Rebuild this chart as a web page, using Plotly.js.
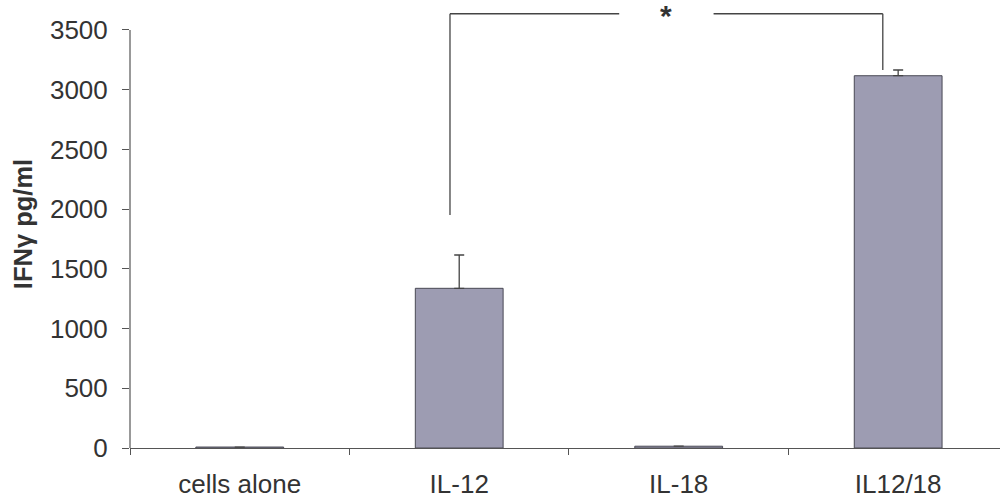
<!DOCTYPE html>
<html>
<head>
<meta charset="utf-8">
<script src="https://cdn.plot.ly/plotly-3.0.1.min.js"></script>
<style>html,body{margin:0;padding:0;background:#fff;}#chart{width:1001px;height:500px;}</style>
</head>
<body>
<div id="chart"></div>
<script>
const categories = ["cells alone", "IL-12", "IL-18", "IL12/18"];
const values = [8, 1337, 15, 3117];
const errorsUp = [0, 279, 0, 48];
const yTickVals = [0, 500, 1000, 1500, 2000, 2500, 3000, 3500];
const yTickText = ["0", "500", "1000", "1500", "2000", "2500", "3000", "3500"];
// significance bracket (IL-12 vs IL12/18)
const bracketX = [0.958, 2.93];
const bracketYBottom = [1951, 3165];
const bracketYTop = 3636;
const sigLabel = "*";

const yMax = 3751;
const axisColor = "#555555";
const textColor = "#333333";

const trace = {
  type: "bar",
  x: categories,
  y: values,
  width: 0.4,
  marker: { color: "#9d9cb2", line: { color: "#4a4a55", width: 1 } },
  error_y: { type: "data", symmetric: false, array: errorsUp, arrayminus: [0,0,0,0],
             color: "#444444", thickness: 1.3, width: 5 },
  hoverinfo: "x+y"
};

const midX = (bracketX[0] + bracketX[1]) / 2;
const gapHalf = 0.215;
const shapes = [
  { type: "line", xref: "x", yref: "y", x0: bracketX[0], x1: bracketX[0], y0: bracketYBottom[0], y1: bracketYTop, line: { color: "#444", width: 1.3 } },
  { type: "line", xref: "x", yref: "y", x0: bracketX[0], x1: midX - gapHalf, y0: bracketYTop, y1: bracketYTop, line: { color: "#444", width: 1.3 } },
  { type: "line", xref: "x", yref: "y", x0: midX + gapHalf, x1: bracketX[1], y0: bracketYTop, y1: bracketYTop, line: { color: "#444", width: 1.3 } },
  { type: "line", xref: "x", yref: "y", x0: bracketX[1], x1: bracketX[1], y0: bracketYTop, y1: bracketYBottom[1], line: { color: "#444", width: 1.3 } },
  // y axis line up to the top tick only
  { type: "line", xref: "paper", yref: "paper", x0: 0, x1: 0, y0: 0, y1: yTickVals[yTickVals.length-1] / yMax, line: { color: axisColor, width: 1.2 } }
];

const layout = {
  width: 1001, height: 500,
  margin: { l: 130, r: 1, t: 0, b: 52 },
  paper_bgcolor: "#ffffff", plot_bgcolor: "#ffffff",
  showlegend: false,
  font: { family: "Liberation Sans, Arial, sans-serif", color: textColor, size: 26 },
  xaxis: {
    type: "category",
    range: [-0.5, 3.464],
    showline: true, linecolor: axisColor, linewidth: 1.2,
    ticks: "outside", tickson: "boundaries", ticklen: 6, tickcolor: axisColor, tickwidth: 1,
    showgrid: false, zeroline: false,
    tickfont: { size: 26, color: textColor },
    ticklabelstandoff: 13
  },
  yaxis: {
    range: [0, yMax],
    tickmode: "array", tickvals: yTickVals, ticktext: yTickText,
    showline: false, showgrid: false, zeroline: false,
    ticks: "outside", ticklen: 7, tickcolor: axisColor, tickwidth: 1,
    tickfont: { size: 26, color: textColor },
    ticklabelstandoff: 9,
    title: { text: "<b>IFNγ pg/ml</b>", font: { size: 25.5, color: textColor }, standoff: 10 }
  },
  shapes: shapes,
  annotations: [
    { xref: "x", yref: "y", x: midX, y: bracketYTop, text: "<b>" + sigLabel + "</b>", showarrow: false,
      font: { size: 30, color: "#333" }, yanchor: "middle", yshift: -2 }
  ]
};

Plotly.newPlot("chart", [trace], layout, { displayModeBar: false, staticPlot: true });
</script>
</body>
</html>
